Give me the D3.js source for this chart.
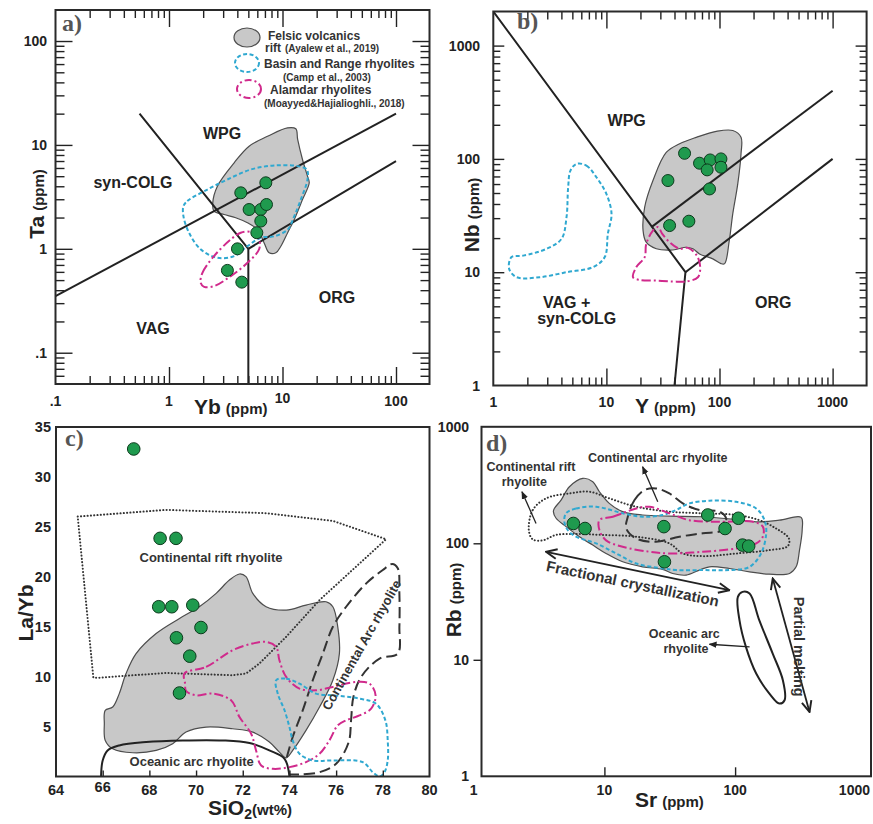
<!DOCTYPE html>
<html><head><meta charset="utf-8">
<script src="https://cdn.jsdelivr.net/npm/d3@7"></script>
<style>
body{margin:0;background:#fff}
text{font-family:"Liberation Sans",Arial,sans-serif;font-weight:bold}
</style>
</head><body><script>
// ---------------- DATA ----------------
// Panel a : Yb vs Ta (ppm)
const aFelsic = [[2.43,2.77],[2.67,4.01],[3.75,6.73],[5.08,9.73],[7.38,12.1],[11.07,14.6],[13.1,14.3],[13.6,11.3],[15.0,7.24],[16.6,5.0],[17.2,4.32],[15.0,2.98],[12.7,1.92],[11.1,1.43],[9.67,1.06],[8.73,0.916],[7.62,0.916],[6.89,1.14],[6.02,1.53],[4.91,1.78],[3.87,1.99],[3.06,2.14],[2.49,2.31]];
const aBasin = [[1.34,2.57],[1.45,2.88],[2.18,3.72],[3.27,4.65],[5.26,5.80],[8.44,6.34],[13.6,6.25],[16.4,5.80],[16.6,4.65],[14.5,2.98],[12.7,2.06],[11.1,1.53],[8.44,1.32],[6.44,1.28],[4.91,1.06],[3.75,0.85],[2.67,0.82],[1.90,0.99],[1.50,1.43],[1.34,2.06]];
const aAlamdar = [[1.90,0.471],[1.97,0.587],[2.49,0.85],[3.50,1.23],[4.29,1.43],[5.26,1.45],[6.22,1.23],[6.22,0.99],[4.91,0.733],[3.50,0.546],[2.49,0.437],[2.04,0.431]];
const aSamples = [[4.29,3.46],[7.13,4.32],[5.08,2.39],[6.44,2.39],[7.23,2.67],[6.44,1.85],[5.94,1.43],[4.01,1.0],[3.27,0.62],[4.38,0.478]];
const aBoundaries = [[[0.1,0.35],[100,20]],[[5,1],[100,7]],[[5,1],[5,0.05]],[[0.55,20],[3,2],[5,1]]];
const aFields = ["WPG","syn-COLG","ORG","VAG"];
const aXTicks = [0.1,1,10,100], aXTickLabels = [".1","1","10","100"];
const aYTicks = [0.1,1,10,100], aYTickLabels = [".1","1","10","100"];

// Panel b : Y vs Nb (ppm)
const bFelsic = [[21.1,23.3],[21.8,37.5],[25.8,64.4],[33.8,114],[44.4,136],[62.3,155],[93.5,175],[131,178],[155,155],[155,111],[145,60.1],[131,32.7],[122,19.0],[111,11.9],[103,11.9],[87.3,13.1],[66.6,14.5],[58.2,16.1],[50.8,16.6],[38.7,15.7],[27.6,16.1],[22.5,18.4]];
const bBasin = [[5.44,90.3],[6.66,87.3],[8.16,68.9],[10,49.1],[11.1,32.7],[10.3,21.8],[9.67,13.6],[7.62,11.1],[4.44,10],[2.58,9.03],[1.61,9.03],[1.38,10.7],[1.45,13.6],[1.84,14.0],[2.96,16.1],[4.01,19.7],[4.44,30.6],[4.59,56.2],[4.81,78.9]];
const bAlamdar = [[17.2,9.03],[18.4,11.1],[21.8,13.6],[22.5,17.8],[25.8,23.3],[28.6,25.0],[31.2,21.8],[36.2,18.4],[44.4,16.1],[52.6,16.4],[63.1,14.0],[67.5,11.1],[64.4,9.03],[50.8,8.28],[38.7,8.28],[27.6,8.44],[19.7,8.55]];
const bSamples = [[49.1,112],[35.0,64.4],[66.6,91.6],[82.7,97.9],[77.8,80.0],[103,100],[103,84.4],[81.6,54.3],[36.2,25.8],[53.6,28.2]];
const bBoundaries = [[[1,2000],[50,10],[40,1]],[[50,10],[1000,100]],[[25,25],[1000,400]]];
const bXTicks = [1,10,100,1000], bXTickLabels = ["1","10","100","1000"];
const bYTicks = [1,10,100,1000], bYTickLabels = ["1","10","100","1000"];

// Panel c : SiO2 vs La/Yb
const cFelsic = [[66.11,6.63],[66.43,6.96],[66.71,8.30],[67.0,10.31],[67.43,12.31],[68.29,14.32],[69.29,15.83],[70.14,17.0],[70.86,18.34],[71.43,19.67],[71.86,20.28],[72.14,20.01],[72.43,18.34],[73.0,17.0],[73.86,16.66],[74.71,17.17],[75.57,17.5],[75.86,17.0],[76.07,14.99],[76.14,12.31],[75.86,9.64],[75.29,6.96],[74.71,4.62],[74.14,2.61],[73.86,1.87],[73.57,2.44],[73.14,3.45],[72.43,4.45],[71.57,4.78],[70.43,4.95],[69.57,4.45],[69.0,3.28],[68.29,2.61],[67.29,2.38],[66.43,2.78],[66.11,3.61],[66.07,5.29]];
const cRift = [[64.93,26.03],[68.71,26.7],[73.0,26.37],[75.86,25.6],[78.14,23.76],[75.29,17.67],[73.86,13.99],[72.71,11.31],[72.14,10.31],[71.57,10.14],[68.71,10.37],[65.86,9.9],[65.6,9.9]];
const cContArc = [[73.89,1.94],[74.14,3.95],[74.57,6.63],[75.0,9.64],[75.43,12.31],[75.86,14.99],[76.43,17.0],[77.29,19.34],[78.0,20.68],[78.4,21.28],[78.64,20.85],[78.71,18.34],[78.71,14.99],[78.64,12.31],[77.86,11.81],[77.07,9.97],[76.74,7.96],[76.64,5.62],[76.54,3.45],[76.0,1.27],[75.29,0.43],[74.43,0.2],[73.97,0.2]];
const cOceanic = [[65.93,0],[66.0,1.6],[66.21,2.61],[66.71,3.11],[67.86,3.45],[69.43,3.61],[71.14,3.61],[72.29,3.35],[73.14,2.61],[73.79,1.77],[74.0,0]];
const cAlamdar = [[69.5,10.31],[70.43,10.97],[71.57,12.65],[72.43,13.32],[73.0,13.48],[73.43,12.98],[73.57,11.64],[73.86,9.97],[74.43,8.8],[75.14,8.63],[75.86,8.97],[76.86,9.47],[77.43,9.3],[77.69,8.13],[77.5,6.79],[77.0,6.12],[76.43,5.62],[76.07,5.12],[75.71,3.61],[75.29,2.28],[74.71,1.44],[74.0,0.94],[73.29,0.77],[72.79,1.1],[72.57,2.61],[72.36,4.28],[71.86,5.96],[71.5,7.63],[70.71,8.3],[70.0,8.13],[69.57,8.57],[69.53,9.3]];
const cBasin = [[73.43,9.64],[73.86,9.8],[74.43,9.3],[75.14,8.3],[75.86,8.13],[77.0,7.8],[77.71,7.29],[78.11,5.62],[78.21,3.61],[78.21,1.61],[78.07,0.43],[77.86,0],[77.57,0.43],[77.14,1.44],[75.86,1.61],[75.0,1.61],[74.43,2.28],[74.14,3.61],[74.0,4.95],[73.79,6.63],[73.5,8.3]];
const cSamples = [[67.33,32.8],[68.46,23.85],[69.14,23.85],[68.4,17.0],[68.96,17.0],[69.86,17.16],[70.21,14.92],[69.16,13.89],[69.73,12.05],[69.29,8.36]];
const cXTicks = [64,66,68,70,72,74,76,78,80];
const cYTicks = [5,10,15,20,25,30,35];

// Panel d : Sr vs Rb (ppm)
const dFelsic = [[4.14,199],[4.66,235],[5.40,306],[6.83,361],[8.15,338],[9.16,277],[10.9,220],[13.8,187],[19.6,175],[31.4,171],[56.6,169],[102,160],[145,153],[218,158],[320,167],[326,130],[311,87.5],[293,62.8],[261,55.1],[183,54.3],[129,56.9],[90.5,60.8],[63.6,62.8],[53.3,58.9],[42.2,53.3],[33.3,55.1],[27.9,59.7],[19.6,62.8],[13.8,69.4],[10.3,81.8],[8.15,96.5],[6.44,114],[5.09,139],[4.27,164],[4.07,187]];
const dRift = [[2.64,130],[2.83,193],[3.58,243],[5.40,268],[7.68,277],[10.9,243],[17.5,206],[31.4,187],[56.6,181],[102,175],[153,158],[206,134],[258,110],[253,94.6],[183,87.4],[102,81.8],[56.6,77.6],[39.8,81.8],[31.4,99.8],[17.5,114],[9.71,118],[6.07,120],[4.27,118],[3.37,106],[2.83,108]];
const dContArc = [[15.1,169],[17.0,235],[20.2,286],[24.8,296],[31.4,268],[39.8,220],[53.3,193],[75.9,187],[85.3,164],[80.5,130],[56.6,122],[37.5,114],[24.8,103],[17.5,110],[14.7,134]];
const dBasin = [[5.09,181],[6.07,199],[8.63,206],[13.8,181],[19.6,169],[27.9,175],[35.3,193],[44.7,220],[63.6,232],[102,227],[145,199],[168,158],[173,122],[158,81.8],[129,62.8],[90.5,58.9],[56.6,58.9],[35.3,58.9],[27.9,60.8],[17.5,67.1],[12.3,81.8],[8.63,99.8],[6.07,114],[5.24,130],[4.94,153]];
const dAlamdar = [[9.16,158],[11.6,169],[17.5,199],[22.1,206],[31.4,181],[44.7,158],[75.9,153],[137,153],[163,139],[163,114],[145,99.8],[102,90.4],[56.6,84.6],[31.4,81.8],[22.1,84.6],[13.8,93.4],[10.3,106],[9.16,130]];
const dOceanic = [[105,34.7],[114,38.3],[129,37.1],[153,21.9],[194,11.3],[232,6.68],[239,4.50],[218,4.21],[183,5.13],[145,7.62],[121,12.9],[108,21.9]];
const dSamples = [[5.79,148],[7.11,134],[28.5,139],[28.8,69.4],[61.8,175],[83.8,134],[106,164],[114,96.5],[127,94.6]];
const dTrendArrows = [[[3.58,84.6],[90.5,39.6]],[[194,49.9],[371,3.57]]];
const dPointerArrows = [[[3.0,148],[2.34,277]],[[25.6,227],[19.6,454]],[[129,12.9],[63.6,13.6]]];
const dXTicks = [1,10,100,1000], dXTickLabels = ["1","10","100","1000"];
const dYTicks = [1,10,100,1000], dYTickLabels = ["1","10","100","1000"];

// ---------------- STYLES ----------------
const ST = {
  felsic:{fill:"#c8c8c8",stroke:"#4d4d4d",sw:1.2,dash:null},
  basin:{fill:"none",stroke:"#2fa8d0",sw:2,dash:"4 2.5"},
  alamdar:{fill:"none",stroke:"#d02a8c",sw:2,dash:"9 3 2 3"},
  dotted:{fill:"none",stroke:"#333",sw:2,dash:"0.1 3.2",cap:"round"},
  longdash:{fill:"none",stroke:"#333",sw:2,dash:"11 5"},
  solid:{fill:"none",stroke:"#222",sw:2,dash:null}
};
const GREEN="#1f9a4e", GREEN_STROKE="#0d3a1d", INK="#222";

const svg = d3.select("body").append("svg").attr("width",873).attr("height",824);
const defs = svg.append("defs");
defs.append("marker").attr("id","vhead").attr("viewBox","0 0 12 12").attr("refX",11).attr("refY",6)
  .attr("markerWidth",13).attr("markerHeight",13).attr("markerUnits","userSpaceOnUse").attr("orient","auto-start-reverse")
  .append("path").attr("d","M1,1.5 L11,6 L1,10.5").attr("fill","none").attr("stroke","#222").attr("stroke-width",1.8);
defs.append("marker").attr("id","thead").attr("viewBox","0 0 10 10").attr("refX",9).attr("refY",5)
  .attr("markerWidth",8).attr("markerHeight",8).attr("markerUnits","userSpaceOnUse").attr("orient","auto")
  .append("path").attr("d","M0,1 L10,5 L0,9 Z").attr("fill","#222");

// ---------------- HELPERS ----------------
function clipFor(id, x0,y0,x1,y1){
  defs.append("clipPath").attr("id",id).append("rect").attr("x",x0).attr("y",y0).attr("width",x1-x0).attr("height",y1-y0);
}
function shape(g,x,y,data,st,curve){
  const p = g.append("path").datum(data)
    .attr("d", d3.line().x(d=>x(d[0])).y(d=>y(d[1])).curve(curve))
    .attr("fill",st.fill).attr("stroke",st.stroke).attr("stroke-width",st.sw).attr("stroke-linejoin","round");
  if(st.dash) p.attr("stroke-dasharray",st.dash);
  if(st.cap) p.attr("stroke-linecap",st.cap);
  return p;
}
function points(g,x,y,data,r){
  g.selectAll(null).data(data).join("circle").attr("cx",d=>x(d[0])).attr("cy",d=>y(d[1])).attr("r",r)
    .attr("fill",GREEN).attr("stroke",GREEN_STROKE).attr("stroke-width",1);
}
function txt(g,x,y,s,size,opts={}){
  const t=g.append("text").attr("x",x).attr("y",y).attr("font-size",size).attr("fill",opts.fill||INK)
   .attr("text-anchor",opts.anchor||"start").text(s);
  if(opts.rotate!==undefined) t.attr("transform",`rotate(${opts.rotate},${x},${y})`);
  if(opts.family) t.style("font-family",opts.family);
  if(opts.baseline) t.attr("dominant-baseline",opts.baseline);
  return t;
}
function logMajors(lo,hi){const o=[];for(let e=-3;e<=5;e++){const v=10**e;if(v>lo*1.001&&v<hi*0.999)o.push(v);}return o;}
function logMinors(lo,hi){const o=[];for(let e=-3;e<=5;e++){for(let k=2;k<=9;k++){const v=k*10**e;if(v>lo*1.001&&v<hi*0.999)o.push(v);}}return o;}
function ticks(g,scale,orient,pos,values,size,sw=1.4){
  const f={bottom:d3.axisBottom,top:d3.axisTop,left:d3.axisLeft,right:d3.axisRight}[orient];
  const ax=f(scale).tickValues(values).tickSize(size).tickFormat("");
  const tr=(orient==="bottom"||orient==="top")?`translate(0,${pos})`:`translate(${pos},0)`;
  const a=g.append("g").attr("transform",tr).call(ax);
  a.select(".domain").remove();
  a.selectAll("line").attr("stroke",INK).attr("stroke-width",sw);
}
function frame(g,x0,y0,x1,y1){
  g.append("rect").attr("x",x0).attr("y",y0).attr("width",x1-x0).attr("height",y1-y0)
   .attr("fill","none").attr("stroke","#2a2a2a").attr("stroke-width",2);
}
function logFrameTicks(g,x,y,L,T,R,B,xMaj,xMin,yMaj,yMin){
  const xd=x.domain(), yd=y.domain();
  const xM=logMajors(xd[0],xd[1]), xm=logMinors(xd[0],xd[1]);
  const yM=logMajors(yd[0],yd[1]), ym=logMinors(yd[0],yd[1]);
  ticks(g,x,"bottom",B,xM,-xMaj); ticks(g,x,"bottom",B,xm,-xMin);
  ticks(g,x,"top",T,xM,-xMaj); ticks(g,x,"top",T,xm,-xMin);
  ticks(g,y,"left",L,yM,-yMaj); ticks(g,y,"left",L,ym,-yMin);
  ticks(g,y,"right",R,yM,-yMaj); ticks(g,y,"right",R,ym,-yMin);
}
function axisTitle(g,x,y,main,unit,mainSize,unitSize,rotate){
  const t=g.append("text").attr("x",x).attr("y",y).attr("fill",INK).attr("text-anchor",rotate?"middle":"start");
  if(rotate) t.attr("transform",`rotate(-90,${x},${y})`);
  t.append("tspan").attr("font-size",mainSize).text(main);
  t.append("tspan").attr("font-size",unitSize).attr("dx",5).text(unit);
  return t;
}
const smooth = d3.curveCatmullRomClosed.alpha(0.5);

// ================= PANEL A =================
{
  const L=55.5,T=10,R=429.5,B=384;
  const x=d3.scaleLog().domain([0.1,200]).range([L,L+113.5*Math.log10(2000)]);
  const y=d3.scaleLog().domain([0.05,200]).range([B,B-103.9*Math.log10(4000)]);
  const g=svg.append("g");
  clipFor("clipA",L,T,R,B);
  const p=g.append("g").attr("clip-path","url(#clipA)");
  shape(p,x,y,aFelsic,ST.felsic,smooth);
  aBoundaries.forEach(b=>shape(p,x,y,b,ST.solid,d3.curveLinear));
  shape(p,x,y,aBasin,ST.basin,smooth);
  shape(p,x,y,aAlamdar,ST.alamdar,smooth);
  points(p,x,y,aSamples,6);
  logFrameTicks(g,x,y,L,T,R,B,17,8,17,9);
  frame(g,L,T,R,B);
  aXTicks.forEach((v,i)=>txt(g,x(v),v===10?403:406,aXTickLabels[i],14,{anchor:"middle"}));
  aYTicks.forEach((v,i)=>txt(g,47,y(v)+5,aYTickLabels[i],14,{anchor:"end"}));
  const fl=[[222,139],[133,188],[337,303],[153,334]];
  aFields.forEach((s,i)=>txt(g,fl[i][0],fl[i][1],s,16,{anchor:"middle"}));
  txt(g,62,31,"a)",24,{family:"'Liberation Serif',serif",fill:"#555"});
  axisTitle(g,194,414,"Yb","(ppm)",21,15,false);
  axisTitle(g,44,204,"Ta","(ppm)",21,15,true);
  // legend
  const lg=g.append("g");
  lg.append("ellipse").attr("cx",247).attr("cy",37.5).attr("rx",13).attr("ry",9.5).attr("fill",ST.felsic.fill).attr("stroke",ST.felsic.stroke).attr("stroke-width",1.2);
  lg.append("ellipse").attr("cx",247).attr("cy",63).attr("rx",12).attr("ry",9).attr("fill","none").attr("stroke",ST.basin.stroke).attr("stroke-width",2).attr("stroke-dasharray",ST.basin.dash);
  lg.append("ellipse").attr("cx",249).attr("cy",89).attr("rx",12).attr("ry",9).attr("fill","none").attr("stroke",ST.alamdar.stroke).attr("stroke-width",2).attr("stroke-dasharray","7 3 2 3");
  txt(lg,268,39.5,"Felsic volcanics",12,{fill:"#333"});
  const r=lg.append("text").attr("x",265).attr("y",52).attr("fill","#333");
  r.append("tspan").attr("font-size",12).text("rift");
  r.append("tspan").attr("font-size",10).attr("dx",4).text("(Ayalew et al., 2019)");
  txt(lg,264,68,"Basin and Range rhyolites",12,{fill:"#333"});
  txt(lg,283,80.5,"(Camp et al., 2003)",10,{fill:"#333"});
  txt(lg,270,94,"Alamdar rhyolites",12,{fill:"#333"});
  txt(lg,264,106.5,"(Moayyed&Hajialioghli., 2018)",10,{fill:"#333"});
}

// ================= PANEL B =================
{
  const L=493.3,T=11.5,R=866.6,B=385.5;
  const x=d3.scaleLog().domain([1,2000]).range([L,L+113.1*Math.log10(2000)]);
  const y=d3.scaleLog().domain([1,2000]).range([B,B-113.3*Math.log10(2000)]);
  const g=svg.append("g");
  clipFor("clipB",L,T,R,B);
  const p=g.append("g").attr("clip-path","url(#clipB)");
  shape(p,x,y,bFelsic,ST.felsic,smooth);
  bBoundaries.forEach(b=>shape(p,x,y,b,ST.solid,d3.curveLinear));
  shape(p,x,y,bBasin,ST.basin,smooth);
  shape(p,x,y,bAlamdar,ST.alamdar,smooth);
  points(p,x,y,bSamples,6);
  logFrameTicks(g,x,y,L,T,R,B,17,8,11,7);
  frame(g,L,T,R,B);
  bXTicks.forEach((v,i)=>txt(g,x(v),407,bXTickLabels[i],14,{anchor:"middle"}));
  bYTicks.forEach((v,i)=>txt(g,480,y(v)+5,bYTickLabels[i],14,{anchor:"end"}));
  txt(g,626.7,126,"WPG",16,{anchor:"middle"});
  txt(g,566.7,307.5,"VAG +",16,{anchor:"middle"});
  txt(g,576.7,324,"syn-COLG",16,{anchor:"middle"});
  txt(g,773.3,307.5,"ORG",16,{anchor:"middle"});
  txt(g,517,29,"b)",24,{family:"'Liberation Serif',serif",fill:"#555"});
  axisTitle(g,635,413,"Y","(ppm)",21,15,false);
  axisTitle(g,479,215,"Nb","(ppm)",21,15,true);
}

// ================= PANEL C =================
{
  const L=56,T=427,R=429.5,B=776.5;
  const x=d3.scaleLinear().domain([64,80]).range([L,R]);
  const y=d3.scaleLinear().domain([0,35]).range([B,T]);
  const g=svg.append("g");
  clipFor("clipC",L,T,R,B);
  const p=g.append("g").attr("clip-path","url(#clipC)");
  shape(p,x,y,cFelsic,ST.felsic,smooth);
  shape(p,x,y,cRift,ST.dotted,d3.curveLinearClosed);
  shape(p,x,y,cOceanic,ST.solid,d3.curveCatmullRom.alpha(0.5));
  shape(p,x,y,cContArc,ST.longdash,d3.curveCatmullRom.alpha(0.5));
  shape(p,x,y,cAlamdar,ST.alamdar,smooth);
  shape(p,x,y,cBasin,ST.basin,smooth);
  points(p,x,y,cSamples,6.3);
  ticks(g,x,"bottom",B,cXTicks.slice(1,-1),-6);
  frame(g,L,T,R,B);
  cXTicks.forEach(v=>txt(g,x(v),v===66?792:795,String(v),14.5,{anchor:"middle"}));
  cYTicks.forEach(v=>txt(g,51,y(v)+5,String(v),14.5,{anchor:"end"}));
  txt(g,211,562,"Continental rift rhyolite",13,{anchor:"middle",fill:"#333"});
  txt(g,191.7,766,"Oceanic arc rhyolite",13,{anchor:"middle",fill:"#333"});
  txt(g,361.7,645,"Continental Arc rhyolite",13,{anchor:"middle",fill:"#333",rotate:-60.6,baseline:"central"});
  txt(g,65,446,"c)",24,{family:"'Liberation Serif',serif",fill:"#555"});
  const t=g.append("text").attr("x",208).attr("y",815).attr("fill",INK);
  t.append("tspan").attr("font-size",21).text("SiO");
  t.append("tspan").attr("font-size",14).attr("dy",4).text("2");
  t.append("tspan").attr("font-size",15).attr("dy",-4).text("(wt%)");
  txt(g,33,613,"La/Yb",21,{anchor:"middle",rotate:-90});
}

// ================= PANEL D =================
{
  const L=481.5,T=426.8,R=871,B=776.3;
  const x=d3.scaleLog().domain([1,1000]).range([473.7,473.7+3*130.7]);
  const y=d3.scaleLog().domain([1,1000]).range([B,T]);
  const g=svg.append("g");
  clipFor("clipD",L,T,R,B);
  const p=g.append("g").attr("clip-path","url(#clipD)");
  shape(p,x,y,dFelsic,ST.felsic,smooth);
  shape(p,x,y,dRift,ST.dotted,smooth);
  shape(p,x,y,dContArc,ST.longdash,smooth);
  shape(p,x,y,dBasin,ST.basin,smooth);
  shape(p,x,y,dAlamdar,ST.alamdar,smooth);
  shape(p,x,y,dOceanic,ST.solid,smooth);
  points(p,x,y,dSamples,6.3);
  dTrendArrows.forEach(a=>p.append("line").attr("x1",x(a[0][0])).attr("y1",y(a[0][1])).attr("x2",x(a[1][0])).attr("y2",y(a[1][1]))
    .attr("stroke","#222").attr("stroke-width",1.8).attr("marker-start","url(#vhead)").attr("marker-end","url(#vhead)"));
  dPointerArrows.forEach(a=>p.append("line").attr("x1",x(a[0][0])).attr("y1",y(a[0][1])).attr("x2",x(a[1][0])).attr("y2",y(a[1][1]))
    .attr("stroke","#222").attr("stroke-width",1.3).attr("marker-end","url(#thead)"));
  ticks(g,x,"bottom",B,[10,100],-9);
  ticks(g,y,"left",L,[10,100],8);
  frame(g,L,T,R,B);
  dXTicks.forEach((v,i)=>{
    const last=i===dXTicks.length-1;
    txt(g,last?870:x(v),795,dXTickLabels[i],14,{anchor:last?"end":"middle"});
  });
  dYTicks.forEach((v,i)=>txt(g,469,y(v)+5,dYTickLabels[i],14,{anchor:"end"}));
  txt(g,531,471,"Continental rift",12.5,{anchor:"middle",fill:"#333"});
  txt(g,524.3,486,"rhyolite",12.5,{anchor:"middle",fill:"#333"});
  txt(g,657.7,462,"Continental arc rhyolite",12.5,{anchor:"middle",fill:"#333"});
  txt(g,684.3,638,"Oceanic arc",12.5,{anchor:"middle",fill:"#333"});
  txt(g,686,653,"rhyolite",12.5,{anchor:"middle",fill:"#333"});
  txt(g,632.7,583.3,"Fractional crystallization",15,{anchor:"middle",fill:"#333",rotate:11.7,baseline:"central"});
  txt(g,799.3,646.7,"Partial melting",14.5,{anchor:"middle",fill:"#333",rotate:90,baseline:"central"});
  txt(g,486,451,"d)",24,{family:"'Liberation Serif',serif",fill:"#555"});
  axisTitle(g,635,807,"Sr","(ppm)",21,15,false);
  axisTitle(g,461,600,"Rb","(ppm)",21,15,true);
}
</script></body></html>
